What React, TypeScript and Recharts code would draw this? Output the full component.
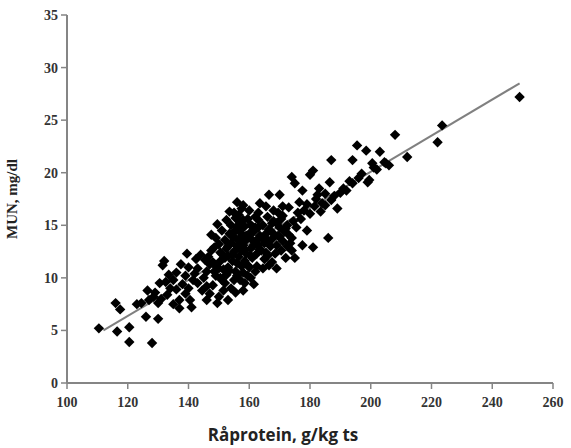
import React from 'react';
import { ScatterChart, Scatter, XAxis, YAxis, ReferenceLine, Label } from 'recharts';

// Råprotein (g/kg ts) vs MUN (mg/dl)
const lowRange: [number, number][] = [
  [110.5, 5.2], [116, 7.6], [117.5, 7.0], [116.5, 4.9], [120.5, 5.3], [120.5, 3.9], [128, 3.8],
  [126, 6.3], [130, 6.1], [124.5, 7.6], [126.5, 8.8], [131.5, 11.2], [132, 11.6], [130.5, 9.5],
  [132.5, 9.6], [129, 8.6], [130, 7.6], [127, 7.9], [123, 7.5], [128.5, 8.2], [131, 8.0],
  [133, 8.4], [134, 9.0], [135, 9.8], [133.5, 10.3], [136, 8.9], [137, 7.9], [137, 7.1],
  [138, 9.4], [139, 10.2], [137.5, 11.3], [139.5, 12.3], [140.5, 7.9], [141, 7.2], [140, 9.0],
  [141.5, 9.8], [142, 10.4], [140, 11.0], [143, 10.9], [144.5, 8.8], [143, 9.5], [142.5, 11.8],
  [144, 12.2], [139, 8.5], [136, 10.5], [135, 7.5],
];

const midRange: [number, number][] = [
  [146, 7.9], [149.5, 7.6], [145, 10.0], [146, 10.6], [147, 11.3], [145.5, 11.7], [147.5, 12.6],
  [147.5, 14.1], [149.5, 15.1], [148, 9.3], [149, 10.2], [150, 10.9], [150.5, 11.6], [151, 12.3],
  [150, 13.2], [151.5, 8.8], [152, 9.5], [152.5, 10.3], [153, 11.0], [153, 12.1], [152, 13.6],
  [153.5, 14.2], [154, 15.0], [155, 16.2], [156, 17.2], [157.5, 16.6], [154, 9.0], [155, 9.8],
  [155.5, 10.6], [156, 11.4], [155, 12.5], [156, 13.0], [157, 13.8], [155.5, 14.5], [157, 15.3],
  [156.5, 16.0], [158, 8.8], [157, 9.8], [158, 10.5], [158.5, 11.6], [159, 12.3], [158, 13.1],
  [159, 14.0], [158.5, 14.9], [159.5, 15.6], [160, 16.4], [160.5, 10.0], [160, 11.0], [161, 11.9],
  [160.5, 12.8], [161, 13.6], [161.5, 14.4], [160.5, 15.0], [162, 15.8], [162, 10.6], [162.5, 12.3],
  [163, 13.1], [163.5, 14.0], [163, 14.8], [163.5, 17.1], [146.5, 12.0], [148.5, 12.9], [149, 13.8],
  [151, 14.5], [152.5, 15.5], [150, 8.2], [146, 9.2], [147, 8.5], [153, 7.9], [154, 13.3],
  [156.5, 12.0], [157.5, 11.1], [159.5, 10.2], [161.5, 9.4], [158.5, 9.5], [154.5, 11.6],
  [151.5, 10.8], [152, 11.9], [155, 13.9], [157, 14.6], [153.5, 16.3], [158, 16.9], [155.5, 15.7],
  [148, 11.5], [150.5, 12.4], [152.5, 12.8], [154, 14.1], [156, 14.9], [158, 15.5], [160, 14.2],
  [162, 14.8], [162.5, 11.1], [160.5, 12.1], [158.5, 12.7], [156.5, 13.5], [163.5, 12.7],
  [151, 9.8], [149, 11.1], [153.5, 10.7], [157.5, 12.6], [159, 13.6], [161, 14.9], [163, 15.5],
  [154.5, 12.2], [156, 10.2], [159.5, 11.2], [161.5, 13.1], [157.5, 14.2], [153, 13.0],
  [150.5, 10.0], [148.5, 10.6], [155.5, 8.6], [162.5, 13.6],
];

const highRange: [number, number][] = [
  [164.5, 10.9], [165, 11.8], [164, 12.6], [165, 13.3], [165.5, 14.2], [164.5, 15.0], [166, 15.8],
  [166.5, 17.9], [166, 12.1], [167, 13.0], [167.5, 13.7], [166.5, 14.6], [168, 15.4], [168, 16.4],
  [169, 10.9], [168.5, 12.3], [169, 13.1], [169.5, 14.0], [170, 14.8], [169, 15.2], [170, 17.9],
  [170.5, 12.6], [171, 13.5], [171.5, 14.4], [171, 15.9], [172, 11.9], [172.5, 13.0], [173, 14.1],
  [172.5, 15.0], [173, 16.7], [174, 12.6], [174, 13.8], [174.5, 15.4], [174, 19.6], [175, 19.0],
  [175, 11.9], [175.5, 14.8], [176, 16.2], [176.5, 17.2], [177, 15.6], [177.5, 13.1], [177.5, 18.3],
  [178, 16.4], [179, 14.5], [179, 17.0], [180, 19.8], [180, 16.1], [167.5, 11.5], [163, 16.2],
  [165.5, 16.8], [171, 16.8], [164, 13.8], [166, 13.6], [168, 14.2], [170, 13.9], [172, 14.7],
  [165.5, 12.4], [167.5, 15.2], [169.5, 16.2], [166.5, 11.2], [170.5, 15.6], [173.5, 13.3],
  [181, 20.2], [181, 12.9], [181.5, 16.8], [182, 17.5], [183, 18.5], [183.5, 16.3], [184, 17.1],
  [185, 16.9], [186, 13.8], [186.5, 19.1], [187, 21.2], [187, 17.4], [188, 17.8], [189, 16.6],
  [190, 18.1], [191, 18.5], [192, 18.3], [193, 19.2], [194, 19.0], [194, 21.2], [195.5, 22.6],
  [196, 19.5], [197, 19.9], [198.5, 22.1], [199, 19.1], [199.5, 19.3], [200.5, 20.9], [201, 20.5],
  [202, 20.3], [203, 22.0], [204.5, 21.0], [205, 20.9], [206, 20.7], [208, 23.6], [212, 21.5],
  [222, 22.9], [223.5, 24.5], [249, 27.2], [182.5, 17.9], [185, 18.0],
];

const fitLine = [
  { x: 112, y: 5.0 },
  { x: 249, y: 28.5 },
];

const xTicks = [100, 120, 140, 160, 180, 200, 220, 240, 260];
const yTicks = [0, 5, 10, 15, 20, 25, 30, 35];

const points = [...lowRange, ...midRange, ...highRange].map(([x, y]) => ({ x, y }));

const axisGray = '#858585';
const tickFont = { fill: '#333', fontSize: 14, fontWeight: 700, fontFamily: 'Liberation Serif' };

const Diamond = (props: any) => {
  const { cx, cy } = props;
  const r = 5.2;
  return (
    <polygon
      points={`${cx},${cy - r} ${cx + r},${cy} ${cx},${cy + r} ${cx - r},${cy}`}
      fill="#000"
    />
  );
};

const XTitle = (props: any) => {
  const { viewBox } = props;
  return (
    <text
      x={viewBox.x + viewBox.width / 2 - 27}
      y={viewBox.y + 58}
      textAnchor="middle"
      fill="#222"
      fontSize={17}
      fontWeight={700}
      fontFamily="Open Sans"
    >
      Råprotein, g/kg ts
    </text>
  );
};

export default function App() {
  return (
    <div style={{ position: 'absolute', left: 0, top: 0, background: '#fff' }}>
      <ScatterChart width={571} height={448} margin={{ top: 15, right: 18, bottom: 0, left: 0 }}>
        <XAxis
          type="number"
          dataKey="x"
          domain={[100, 260]}
          ticks={xTicks}
          interval={0}
          height={65}
          axisLine={{ stroke: axisGray, strokeWidth: 2 }}
          tickLine={{ stroke: axisGray, strokeWidth: 1.5 }}
          tickSize={6}
          tickMargin={8}
          tick={tickFont}
          label={<XTitle />}
        />
        <YAxis
          type="number"
          dataKey="y"
          domain={[0, 35]}
          ticks={yTicks}
          interval={0}
          width={67}
          axisLine={{ stroke: axisGray, strokeWidth: 2 }}
          tickLine={{ stroke: axisGray, strokeWidth: 1.5 }}
          tickSize={6}
          tickMargin={3}
          tick={tickFont}
        >
          <Label
            value="MUN, mg/dl"
            angle={-90}
            position="insideLeft"
            offset={12}
            style={{ textAnchor: 'middle', fill: '#222', fontSize: 15, fontWeight: 700, fontFamily: 'Liberation Serif' }}
          />
        </YAxis>
        <Scatter data={points} shape={<Diamond />} isAnimationActive={false} />
        <ReferenceLine segment={fitLine} stroke="#808080" strokeWidth={2} />
      </ScatterChart>
    </div>
  );
}
